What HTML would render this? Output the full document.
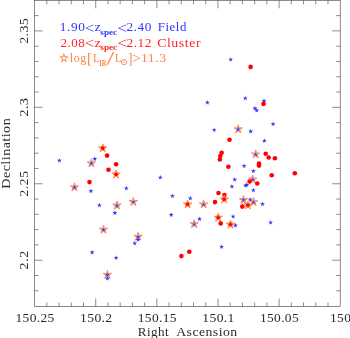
<!DOCTYPE html>
<html><head><meta charset="utf-8"><title>Plot</title>
<style>html,body{margin:0;padding:0;background:#fff}svg{display:block;will-change:transform;filter:opacity(0.9999)}</style></head>
<body>
<svg width="350" height="338" viewBox="0 0 350 338">
<rect width="350" height="338" fill="#fff"/>
<g stroke="#444" stroke-width="0.62" fill="none" stroke-linecap="butt">
<rect x="34.60" y="0.30" width="305.60" height="306.20"/>
<path d="M46.82 306.50v-4.0M46.82 0.30v4.0M59.05 306.50v-4.0M59.05 0.30v4.0M71.27 306.50v-4.0M71.27 0.30v4.0M83.50 306.50v-4.0M83.50 0.30v4.0M95.72 306.50v-8.0M95.72 0.30v8.0M107.94 306.50v-4.0M107.94 0.30v4.0M120.17 306.50v-4.0M120.17 0.30v4.0M132.39 306.50v-4.0M132.39 0.30v4.0M144.62 306.50v-4.0M144.62 0.30v4.0M156.84 306.50v-8.0M156.84 0.30v8.0M169.06 306.50v-4.0M169.06 0.30v4.0M181.29 306.50v-4.0M181.29 0.30v4.0M193.51 306.50v-4.0M193.51 0.30v4.0M205.74 306.50v-4.0M205.74 0.30v4.0M217.96 306.50v-8.0M217.96 0.30v8.0M230.18 306.50v-4.0M230.18 0.30v4.0M242.41 306.50v-4.0M242.41 0.30v4.0M254.63 306.50v-4.0M254.63 0.30v4.0M266.86 306.50v-4.0M266.86 0.30v4.0M279.08 306.50v-8.0M279.08 0.30v8.0M291.30 306.50v-4.0M291.30 0.30v4.0M303.53 306.50v-4.0M303.53 0.30v4.0M315.75 306.50v-4.0M315.75 0.30v4.0M327.98 306.50v-4.0M327.98 0.30v4.0M34.60 290.78h4.0M340.20 290.78h-4.0M34.60 275.49h4.0M340.20 275.49h-4.0M34.60 260.20h8.0M340.20 260.20h-8.0M34.60 244.92h4.0M340.20 244.92h-4.0M34.60 229.63h4.0M340.20 229.63h-4.0M34.60 214.34h4.0M340.20 214.34h-4.0M34.60 199.06h4.0M340.20 199.06h-4.0M34.60 183.77h8.0M340.20 183.77h-8.0M34.60 168.48h4.0M340.20 168.48h-4.0M34.60 153.20h4.0M340.20 153.20h-4.0M34.60 137.91h4.0M340.20 137.91h-4.0M34.60 122.62h4.0M340.20 122.62h-4.0M34.60 107.34h8.0M340.20 107.34h-8.0M34.60 92.05h4.0M340.20 92.05h-4.0M34.60 76.76h4.0M340.20 76.76h-4.0M34.60 61.47h4.0M340.20 61.47h-4.0M34.60 46.19h4.0M340.20 46.19h-4.0M34.60 30.90h8.0M340.20 30.90h-8.0M34.60 15.61h4.0M340.20 15.61h-4.0"/>
</g>
<g fill="none" stroke="#ff8444" stroke-width="1" stroke-linejoin="miter">
<polygon points="91.40,158.85 92.39,161.89 95.58,161.89 93.00,163.77 93.99,166.81 91.40,164.93 88.81,166.81 89.80,163.77 87.22,161.89 90.41,161.89"/>
<polygon points="74.50,182.85 75.49,185.89 78.68,185.89 76.10,187.77 77.09,190.81 74.50,188.93 71.91,190.81 72.90,187.77 70.32,185.89 73.51,185.89"/>
<polygon points="117.00,201.05 117.99,204.09 121.18,204.09 118.60,205.97 119.59,209.01 117.00,207.13 114.41,209.01 115.40,205.97 112.82,204.09 116.01,204.09"/>
<polygon points="103.50,225.25 104.49,228.29 107.68,228.29 105.10,230.17 106.09,233.21 103.50,231.33 100.91,233.21 101.90,230.17 99.32,228.29 102.51,228.29"/>
<polygon points="107.40,270.35 108.39,273.39 111.58,273.39 109.00,275.27 109.99,278.31 107.40,276.43 104.81,278.31 105.80,275.27 103.22,273.39 106.41,273.39"/>
<polygon points="138.10,232.25 139.09,235.29 142.28,235.29 139.70,237.17 140.69,240.21 138.10,238.33 135.51,240.21 136.50,237.17 133.92,235.29 137.11,235.29"/>
<polygon points="133.30,197.45 134.29,200.49 137.48,200.49 134.90,202.37 135.89,205.41 133.30,203.53 130.71,205.41 131.70,202.37 129.12,200.49 132.31,200.49"/>
<polygon points="203.60,199.95 204.59,202.99 207.78,202.99 205.20,204.87 206.19,207.91 203.60,206.03 201.01,207.91 202.00,204.87 199.42,202.99 202.61,202.99"/>
<polygon points="194.20,219.65 195.19,222.69 198.38,222.69 195.80,224.57 196.79,227.61 194.20,225.73 191.61,227.61 192.60,224.57 190.02,222.69 193.21,222.69"/>
<polygon points="243.50,195.55 244.49,198.59 247.68,198.59 245.10,200.47 246.09,203.51 243.50,201.63 240.91,203.51 241.90,200.47 239.32,198.59 242.51,198.59"/>
<polygon points="253.50,197.65 254.49,200.69 257.68,200.69 255.10,202.57 256.09,205.61 253.50,203.73 250.91,205.61 251.90,202.57 249.32,200.69 252.51,200.69"/>
<polygon points="252.70,175.05 253.69,178.09 256.88,178.09 254.30,179.97 255.29,183.01 252.70,181.13 250.11,183.01 251.10,179.97 248.52,178.09 251.71,178.09"/>
<polygon points="255.70,149.95 256.69,152.99 259.88,152.99 257.30,154.87 258.29,157.91 255.70,156.03 253.11,157.91 254.10,154.87 251.52,152.99 254.71,152.99"/>
<polygon points="238.20,124.85 239.19,127.89 242.38,127.89 239.80,129.77 240.79,132.81 238.20,130.93 235.61,132.81 236.60,129.77 234.02,127.89 237.21,127.89"/>
</g>
<g fill="#3636ff">
<polygon points="59.40,157.90 59.98,159.70 61.87,159.70 60.34,160.81 60.93,162.60 59.40,161.49 57.87,162.60 58.46,160.81 56.93,159.70 58.82,159.70"/>
<polygon points="94.80,156.30 95.38,158.10 97.27,158.10 95.74,159.21 96.33,161.00 94.80,159.89 93.27,161.00 93.86,159.21 92.33,158.10 94.22,158.10"/>
<polygon points="91.40,160.80 91.98,162.60 93.87,162.60 92.34,163.71 92.93,165.50 91.40,164.39 89.87,165.50 90.46,163.71 88.93,162.60 90.82,162.60"/>
<polygon points="74.50,184.80 75.08,186.60 76.97,186.60 75.44,187.71 76.03,189.50 74.50,188.39 72.97,189.50 73.56,187.71 72.03,186.60 73.92,186.60"/>
<polygon points="90.90,188.50 91.48,190.30 93.37,190.30 91.84,191.41 92.43,193.20 90.90,192.09 89.37,193.20 89.96,191.41 88.43,190.30 90.32,190.30"/>
<polygon points="126.30,185.70 126.88,187.50 128.77,187.50 127.24,188.61 127.83,190.40 126.30,189.29 124.77,190.40 125.36,188.61 123.83,187.50 125.72,187.50"/>
<polygon points="99.40,202.70 99.98,204.50 101.87,204.50 100.34,205.61 100.93,207.40 99.40,206.29 97.87,207.40 98.46,205.61 96.93,204.50 98.82,204.50"/>
<polygon points="117.00,203.00 117.58,204.80 119.47,204.80 117.94,205.91 118.53,207.70 117.00,206.59 115.47,207.70 116.06,205.91 114.53,204.80 116.42,204.80"/>
<polygon points="114.90,210.30 115.48,212.10 117.37,212.10 115.84,213.21 116.43,215.00 114.90,213.89 113.37,215.00 113.96,213.21 112.43,212.10 114.32,212.10"/>
<polygon points="103.50,227.20 104.08,229.00 105.97,229.00 104.44,230.11 105.03,231.90 103.50,230.79 101.97,231.90 102.56,230.11 101.03,229.00 102.92,229.00"/>
<polygon points="92.10,249.80 92.68,251.60 94.57,251.60 93.04,252.71 93.63,254.50 92.10,253.39 90.57,254.50 91.16,252.71 89.63,251.60 91.52,251.60"/>
<polygon points="116.10,255.20 116.68,257.00 118.57,257.00 117.04,258.11 117.63,259.90 116.10,258.79 114.57,259.90 115.16,258.11 113.63,257.00 115.52,257.00"/>
<polygon points="107.40,272.30 107.98,274.10 109.87,274.10 108.34,275.21 108.93,277.00 107.40,275.89 105.87,277.00 106.46,275.21 104.93,274.10 106.82,274.10"/>
<polygon points="107.40,275.90 107.98,277.70 109.87,277.70 108.34,278.81 108.93,280.60 107.40,279.49 105.87,280.60 106.46,278.81 104.93,277.70 106.82,277.70"/>
<polygon points="138.10,234.20 138.68,236.00 140.57,236.00 139.04,237.11 139.63,238.90 138.10,237.79 136.57,238.90 137.16,237.11 135.63,236.00 137.52,236.00"/>
<polygon points="134.70,240.70 135.28,242.50 137.17,242.50 135.64,243.61 136.23,245.40 134.70,244.29 133.17,245.40 133.76,243.61 132.23,242.50 134.12,242.50"/>
<polygon points="138.00,237.10 138.58,238.90 140.47,238.90 138.94,240.01 139.53,241.80 138.00,240.69 136.47,241.80 137.06,240.01 135.53,238.90 137.42,238.90"/>
<polygon points="133.30,199.40 133.88,201.20 135.77,201.20 134.24,202.31 134.83,204.10 133.30,202.99 131.77,204.10 132.36,202.31 130.83,201.20 132.72,201.20"/>
<polygon points="160.30,174.90 160.88,176.70 162.77,176.70 161.24,177.81 161.83,179.60 160.30,178.49 158.77,179.60 159.36,177.81 157.83,176.70 159.72,176.70"/>
<polygon points="172.40,193.50 172.98,195.30 174.87,195.30 173.34,196.41 173.93,198.20 172.40,197.09 170.87,198.20 171.46,196.41 169.93,195.30 171.82,195.30"/>
<polygon points="171.20,212.30 171.78,214.10 173.67,214.10 172.14,215.21 172.73,217.00 171.20,215.89 169.67,217.00 170.26,215.21 168.73,214.10 170.62,214.10"/>
<polygon points="190.30,195.70 190.88,197.50 192.77,197.50 191.24,198.61 191.83,200.40 190.30,199.29 188.77,200.40 189.36,198.61 187.83,197.50 189.72,197.50"/>
<polygon points="203.60,201.90 204.18,203.70 206.07,203.70 204.54,204.81 205.13,206.60 203.60,205.49 202.07,206.60 202.66,204.81 201.13,203.70 203.02,203.70"/>
<polygon points="199.50,216.50 200.08,218.30 201.97,218.30 200.44,219.41 201.03,221.20 199.50,220.09 197.97,221.20 198.56,219.41 197.03,218.30 198.92,218.30"/>
<polygon points="194.20,221.60 194.78,223.40 196.67,223.40 195.14,224.51 195.73,226.30 194.20,225.19 192.67,226.30 193.26,224.51 191.73,223.40 193.62,223.40"/>
<polygon points="233.10,213.90 233.68,215.70 235.57,215.70 234.04,216.81 234.63,218.60 233.10,217.49 231.57,218.60 232.16,216.81 230.63,215.70 232.52,215.70"/>
<polygon points="235.40,222.80 235.98,224.60 237.87,224.60 236.34,225.71 236.93,227.50 235.40,226.39 233.87,227.50 234.46,225.71 232.93,224.60 234.82,224.60"/>
<polygon points="221.60,244.20 222.18,246.00 224.07,246.00 222.54,247.11 223.13,248.90 221.60,247.79 220.07,248.90 220.66,247.11 219.13,246.00 221.02,246.00"/>
<polygon points="231.90,183.90 232.48,185.70 234.37,185.70 232.84,186.81 233.43,188.60 231.90,187.49 230.37,188.60 230.96,186.81 229.43,185.70 231.32,185.70"/>
<polygon points="245.50,183.00 246.08,184.80 247.97,184.80 246.44,185.91 247.03,187.70 245.50,186.59 243.97,187.70 244.56,185.91 243.03,184.80 244.92,184.80"/>
<polygon points="246.80,182.30 247.38,184.10 249.27,184.10 247.74,185.21 248.33,187.00 246.80,185.89 245.27,187.00 245.86,185.21 244.33,184.10 246.22,184.10"/>
<polygon points="243.50,197.50 244.08,199.30 245.97,199.30 244.44,200.41 245.03,202.20 243.50,201.09 241.97,202.20 242.56,200.41 241.03,199.30 242.92,199.30"/>
<polygon points="250.10,196.90 250.68,198.70 252.57,198.70 251.04,199.81 251.63,201.60 250.10,200.49 248.57,201.60 249.16,199.81 247.63,198.70 249.52,198.70"/>
<polygon points="253.50,199.60 254.08,201.40 255.97,201.40 254.44,202.51 255.03,204.30 253.50,203.19 251.97,204.30 252.56,202.51 251.03,201.40 252.92,201.40"/>
<polygon points="262.50,201.50 263.08,203.30 264.97,203.30 263.44,204.41 264.03,206.20 262.50,205.09 260.97,206.20 261.56,204.41 260.03,203.30 261.92,203.30"/>
<polygon points="270.60,219.90 271.18,221.70 273.07,221.70 271.54,222.81 272.13,224.60 270.60,223.49 269.07,224.60 269.66,222.81 268.13,221.70 270.02,221.70"/>
<polygon points="253.40,187.70 253.98,189.50 255.87,189.50 254.34,190.61 254.93,192.40 253.40,191.29 251.87,192.40 252.46,190.61 250.93,189.50 252.82,189.50"/>
<polygon points="234.70,177.00 235.28,178.80 237.17,178.80 235.64,179.91 236.23,181.70 234.70,180.59 233.17,181.70 233.76,179.91 232.23,178.80 234.12,178.80"/>
<polygon points="252.70,177.00 253.28,178.80 255.17,178.80 253.64,179.91 254.23,181.70 252.70,180.59 251.17,181.70 251.76,179.91 250.23,178.80 252.12,178.80"/>
<polygon points="253.40,168.50 253.98,170.30 255.87,170.30 254.34,171.41 254.93,173.20 253.40,172.09 251.87,173.20 252.46,171.41 250.93,170.30 252.82,170.30"/>
<polygon points="244.10,163.50 244.68,165.30 246.57,165.30 245.04,166.41 245.63,168.20 244.10,167.09 242.57,168.20 243.16,166.41 241.63,165.30 243.52,165.30"/>
<polygon points="255.70,151.90 256.28,153.70 258.17,153.70 256.64,154.81 257.23,156.60 255.70,155.49 254.17,156.60 254.76,154.81 253.23,153.70 255.12,153.70"/>
<polygon points="264.40,138.20 264.98,140.00 266.87,140.00 265.34,141.11 265.93,142.90 264.40,141.79 262.87,142.90 263.46,141.11 261.93,140.00 263.82,140.00"/>
<polygon points="250.70,128.80 251.28,130.60 253.17,130.60 251.64,131.71 252.23,133.50 250.70,132.39 249.17,133.50 249.76,131.71 248.23,130.60 250.12,130.60"/>
<polygon points="238.20,126.80 238.78,128.60 240.67,128.60 239.14,129.71 239.73,131.50 238.20,130.39 236.67,131.50 237.26,129.71 235.73,128.60 237.62,128.60"/>
<polygon points="214.20,127.40 214.78,129.20 216.67,129.20 215.14,130.31 215.73,132.10 214.20,130.99 212.67,132.10 213.26,130.31 211.73,129.20 213.62,129.20"/>
<polygon points="273.10,121.50 273.68,123.30 275.57,123.30 274.04,124.41 274.63,126.20 273.10,125.09 271.57,126.20 272.16,124.41 270.63,123.30 272.52,123.30"/>
<polygon points="254.90,105.80 255.48,107.60 257.37,107.60 255.84,108.71 256.43,110.50 254.90,109.39 253.37,110.50 253.96,108.71 252.43,107.60 254.32,107.60"/>
<polygon points="256.70,107.80 257.28,109.60 259.17,109.60 257.64,110.71 258.23,112.50 256.70,111.39 255.17,112.50 255.76,110.71 254.23,109.60 256.12,109.60"/>
<polygon points="264.00,98.30 264.58,100.10 266.47,100.10 264.94,101.21 265.53,103.00 264.00,101.89 262.47,103.00 263.06,101.21 261.53,100.10 263.42,100.10"/>
<polygon points="245.30,95.70 245.88,97.50 247.77,97.50 246.24,98.61 246.83,100.40 245.30,99.29 243.77,100.40 244.36,98.61 242.83,97.50 244.72,97.50"/>
<polygon points="207.40,100.00 207.98,101.80 209.87,101.80 208.34,102.91 208.93,104.70 207.40,103.59 205.87,104.70 206.46,102.91 204.93,101.80 206.82,101.80"/>
<polygon points="230.70,56.90 231.28,58.70 233.17,58.70 231.64,59.81 232.23,61.60 230.70,60.49 229.17,61.60 229.76,59.81 228.23,58.70 230.12,58.70"/>
</g>
<g fill="#ff0000">
<circle cx="102.8" cy="148.1" r="2.3"/>
<circle cx="107.1" cy="155.6" r="2.3"/>
<circle cx="116.1" cy="164.3" r="2.3"/>
<circle cx="108.5" cy="169.8" r="2.3"/>
<circle cx="116.1" cy="174.3" r="2.3"/>
<circle cx="89.5" cy="182.1" r="2.3"/>
<circle cx="187.6" cy="204.2" r="2.3"/>
<circle cx="218.5" cy="193.0" r="2.3"/>
<circle cx="224.4" cy="195.0" r="2.3"/>
<circle cx="224.2" cy="199.2" r="2.3"/>
<circle cx="215.0" cy="202.1" r="2.3"/>
<circle cx="218.2" cy="217.5" r="2.3"/>
<circle cx="220.7" cy="223.4" r="2.3"/>
<circle cx="230.5" cy="224.4" r="2.3"/>
<circle cx="189.3" cy="251.8" r="2.3"/>
<circle cx="181.4" cy="256.1" r="2.3"/>
<circle cx="247.9" cy="205.1" r="2.3"/>
<circle cx="242.3" cy="206.6" r="2.3"/>
<circle cx="249.6" cy="181.5" r="2.3"/>
<circle cx="257.3" cy="183.5" r="2.3"/>
<circle cx="271.7" cy="175.2" r="2.3"/>
<circle cx="294.8" cy="173.2" r="2.3"/>
<circle cx="259.0" cy="163.6" r="2.3"/>
<circle cx="259.0" cy="165.6" r="2.3"/>
<circle cx="228.4" cy="166.8" r="2.3"/>
<circle cx="221.6" cy="152.8" r="2.3"/>
<circle cx="220.3" cy="156.0" r="2.3"/>
<circle cx="219.9" cy="159.5" r="2.3"/>
<circle cx="265.7" cy="153.7" r="2.3"/>
<circle cx="268.7" cy="157.5" r="2.3"/>
<circle cx="274.9" cy="158.2" r="2.3"/>
<circle cx="229.5" cy="139.8" r="2.3"/>
<circle cx="263.5" cy="103.9" r="2.3"/>
<circle cx="250.6" cy="66.9" r="2.3"/>
</g>
<g fill="none" stroke="#ff8444" stroke-width="1" stroke-linejoin="miter">
<polygon points="102.80,143.85 103.79,146.89 106.98,146.89 104.40,148.77 105.39,151.81 102.80,149.93 100.21,151.81 101.20,148.77 98.62,146.89 101.81,146.89"/>
<polygon points="116.10,170.05 117.09,173.09 120.28,173.09 117.70,174.97 118.69,178.01 116.10,176.13 113.51,178.01 114.50,174.97 111.92,173.09 115.11,173.09"/>
<polygon points="187.60,199.95 188.59,202.99 191.78,202.99 189.20,204.87 190.19,207.91 187.60,206.03 185.01,207.91 186.00,204.87 183.42,202.99 186.61,202.99"/>
<polygon points="224.20,194.95 225.19,197.99 228.38,197.99 225.80,199.87 226.79,202.91 224.20,201.03 221.61,202.91 222.60,199.87 220.02,197.99 223.21,197.99"/>
<polygon points="218.20,213.25 219.19,216.29 222.38,216.29 219.80,218.17 220.79,221.21 218.20,219.33 215.61,221.21 216.60,218.17 214.02,216.29 217.21,216.29"/>
<polygon points="230.50,220.15 231.49,223.19 234.68,223.19 232.10,225.07 233.09,228.11 230.50,226.23 227.91,228.11 228.90,225.07 226.32,223.19 229.51,223.19"/>
<polygon points="247.90,200.85 248.89,203.89 252.08,203.89 249.50,205.77 250.49,208.81 247.90,206.93 245.31,208.81 246.30,205.77 243.72,203.89 246.91,203.89"/>
</g>
<g font-family="Liberation Serif, serif" fill="#2b2b2b">
<text transform="translate(15.51 321.60) scale(1.079 1.070)" font-size="12.5" letter-spacing="0.3">150.25</text>
<text transform="translate(80.12 321.60) scale(1.089 1.070)" font-size="12.5" letter-spacing="0.3">150.2</text>
<text transform="translate(137.75 321.60) scale(1.079 1.070)" font-size="12.5" letter-spacing="0.3">150.15</text>
<text transform="translate(202.36 321.60) scale(1.092 1.070)" font-size="12.5" letter-spacing="0.3">150.1</text>
<text transform="translate(259.99 321.60) scale(1.079 1.070)" font-size="12.5" letter-spacing="0.3">150.05</text>
<text transform="translate(330.01 321.60) scale(1.080 1.070)" font-size="12.5" letter-spacing="0.3">150</text>
<text transform="translate(28.00 30.90) rotate(-90) translate(-12.92 0) scale(1.149 1.000)" font-size="12.3" letter-spacing="0.3">2.35</text>
<text transform="translate(28.00 107.34) rotate(-90) translate(-9.44 0) scale(1.177 1.000)" font-size="12.3" letter-spacing="0.3">2.3</text>
<text transform="translate(28.00 183.77) rotate(-90) translate(-12.92 0) scale(1.149 1.000)" font-size="12.3" letter-spacing="0.3">2.25</text>
<text transform="translate(28.00 260.20) rotate(-90) translate(-9.44 0) scale(1.193 1.000)" font-size="12.3" letter-spacing="0.3">2.2</text>
<text transform="translate(137.82 335.60) scale(1.091 1.000)" font-size="12" letter-spacing="0.4">Right</text>
<text transform="translate(176.17 335.60) scale(1.148 1.000)" font-size="12" letter-spacing="0.4">Ascension</text>
<text transform="translate(9.60 153.40) rotate(-90) translate(-35.31 0) scale(1.174 1.000)" font-size="12" letter-spacing="0.4">Declination</text>
</g>
<g font-family="Liberation Serif, serif" fill="#3434ff">
<text transform="translate(59.83 31.10) scale(1.128 1.000)" font-size="11.8" letter-spacing="0.5">1.90</text>
<text transform="translate(84.85 32.66) scale(1.439 1.265)" font-size="11.8">&lt;</text>
<text transform="translate(94.41 31.10) scale(1.219 1.000)" font-size="11.8">z</text>
<text transform="translate(100.32 34.70) scale(1.085 1.000)" font-size="8.5" font-weight="bold">spec</text>
<text transform="translate(117.33 32.66) scale(1.475 1.265)" font-size="11.8">&lt;</text>
<text transform="translate(126.42 31.10) scale(1.124 1.000)" font-size="11.8" letter-spacing="0.5">2.40</text>
<text transform="translate(157.73 31.10) scale(1.094 1.000)" font-size="11.8" letter-spacing="0.5">Field</text>
</g>
<g font-family="Liberation Serif, serif" fill="#ff2626">
<text transform="translate(60.43 46.50) scale(1.100 1.000)" font-size="11.8" letter-spacing="0.5">2.08</text>
<text transform="translate(84.85 48.06) scale(1.439 1.265)" font-size="11.8">&lt;</text>
<text transform="translate(94.41 46.50) scale(1.219 1.000)" font-size="11.8">z</text>
<text transform="translate(100.32 50.10) scale(1.085 1.000)" font-size="8.5" font-weight="bold">spec</text>
<text transform="translate(117.33 48.06) scale(1.475 1.265)" font-size="11.8">&lt;</text>
<text transform="translate(126.41 46.50) scale(1.134 1.000)" font-size="11.8" letter-spacing="0.5">2.12</text>
<text transform="translate(157.13 46.50) scale(1.170 1.000)" font-size="11.8" letter-spacing="0.5">Cluster</text>
</g>
<g font-family="Liberation Serif, serif" fill="#ff8444">
<text transform="translate(59.32 62.35) scale(1.160 1.283)" font-family="DejaVu Sans, sans-serif" font-size="9" stroke="#ff8444" stroke-width="0.3">☆</text>
<text transform="translate(69.86 62.20) scale(1.031 1.000)" font-size="11.8" letter-spacing="0.5">log</text>
<text transform="translate(87.00 63.14) scale(1.256 1.239)" font-size="11.8">[</text>
<text transform="translate(92.99 62.20) scale(0.925 1.000)" font-size="11.8">L</text>
<text transform="translate(99.18 65.60) scale(0.805 0.897)" font-size="8" font-weight="bold">IR</text>
<text transform="translate(106.60 64.72) scale(2.349 1.596)" font-size="11.8">/</text>
<text transform="translate(115.00 62.20) scale(0.877 1.000)" font-size="11.8">L</text>
<text transform="translate(119.99 65.37) scale(1.264 1.262)" font-family="DejaVu Sans, sans-serif" font-size="7" stroke="#ff8444" stroke-width="0.05">⊙</text>
<text transform="translate(128.15 63.14) scale(1.066 1.239)" font-size="11.8">]</text>
<text transform="translate(132.13 63.16) scale(1.293 1.265)" font-size="11.8">&gt;</text>
<text transform="translate(141.00 62.20) scale(1.152 1.000)" font-size="11.8" letter-spacing="0.5">11.3</text>
</g>
</svg>
</body></html>
